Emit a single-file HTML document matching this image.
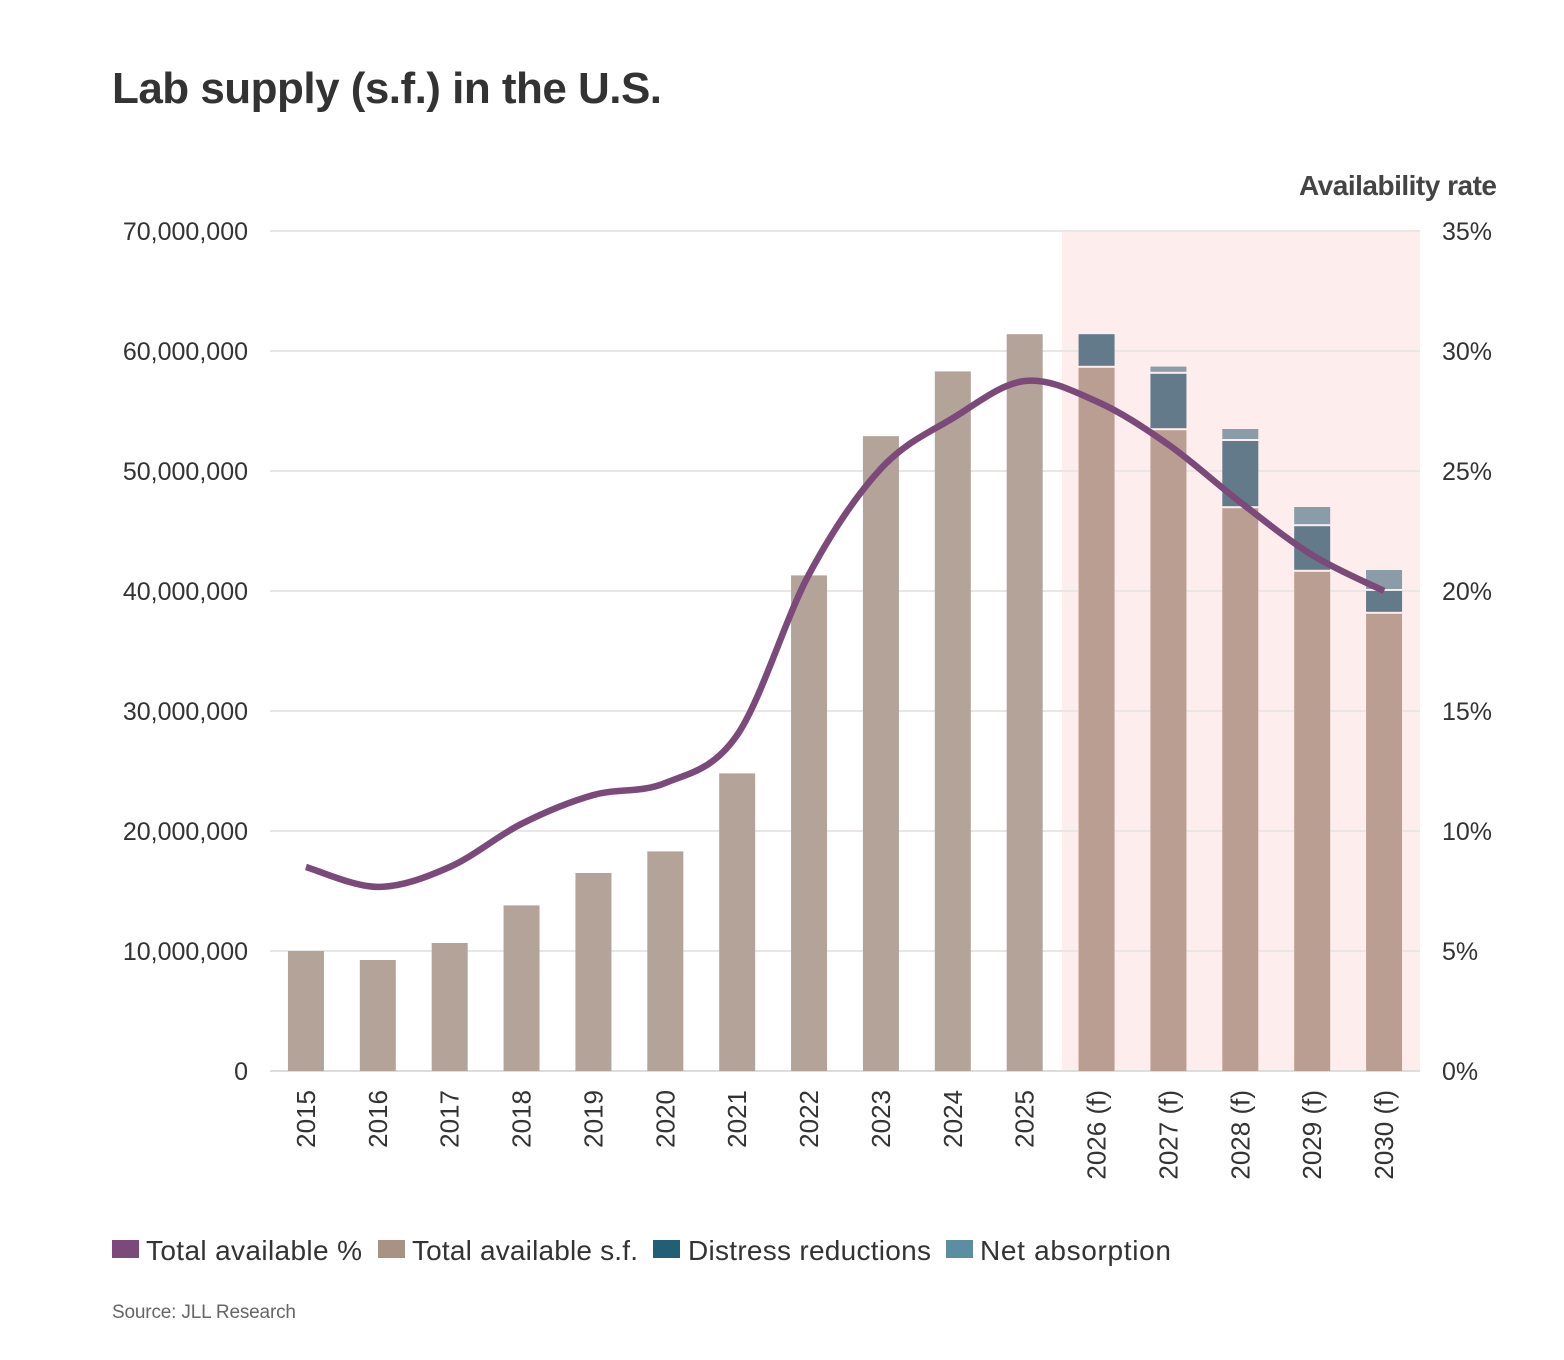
<!DOCTYPE html>
<html><head><meta charset="utf-8"><style>
body{margin:0;background:#fff;}
svg{display:block;font-family:"Liberation Sans Narrow","Liberation Sans",sans-serif;}
</style></head><body>
<svg id="chart" width="1564" height="1360">
<text x="112" y="103" font-size="44" font-weight="bold" fill="#333" textLength="550">Lab supply (s.f.) in the U.S.</text>
<text x="1497" y="195" font-size="28" font-weight="bold" fill="#444" text-anchor="end" textLength="198">Availability rate</text>
<rect x="1062" y="231" width="358" height="840" fill="#fdeeed"/>
<g id="grid"></g><g id="bars"></g><g id="line"></g><g id="axes"></g>
<g>
<g><rect x="112" y="1240" width="27" height="18" fill="#7b4a7a"/><text x="146" y="1260" font-size="28" fill="#333" textLength="216">Total available %</text></g>
<g><rect x="378" y="1240" width="27" height="18" fill="#a89284"/><text x="412" y="1260" font-size="28" fill="#333" textLength="226">Total available s.f.</text></g>
<g><rect x="653" y="1240" width="27" height="18" fill="#225e74"/><text x="688" y="1260" font-size="28" fill="#333" textLength="243">Distress reductions</text></g>
<g><rect x="946" y="1240" width="27" height="18" fill="#5a8ea0"/><text x="980" y="1260" font-size="28" fill="#333" textLength="191">Net absorption</text></g>
</g>
<text x="112" y="1318" font-size="19" fill="#666" textLength="184">Source: JLL Research</text>
</svg>
<script>
const categories=["2015","2016","2017","2018","2019","2020","2021","2022","2023","2024","2025","2026 (f)","2027 (f)","2028 (f)","2029 (f)","2030 (f)"];
const totalSf=[10.0,9.25,10.67,13.8,16.5,18.3,24.8,41.3,52.9,58.3,61.4,58.6,53.4,46.9,41.6,38.1];
const distress=[0,0,0,0,0,0,0,0,0,0,0,2.8,4.7,5.6,3.8,1.9];
const absorption=[0,0,0,0,0,0,0,0,0,0,0,0,0.6,1.0,1.6,1.75];
const availPct=[8.5,7.67,8.5,10.3,11.5,12.0,14.0,20.7,25.1,27.2,28.75,27.9,26.1,23.7,21.5,20.0];
const leftTicks=[0,10,20,30,40,50,60,70];
const rightTicks=[0,5,10,15,20,25,30,35];
const NS="http://www.w3.org/2000/svg";
const x0=270,x1=1420,y0=1071,y1=231,step=(x1-x0)/categories.length,bw=36;
const xC=i=>x0+step*(i+0.5);
const yL=v=>y0-(v/70)*(y0-y1);
const yR=v=>y0-(v/35)*(y0-y1);
function mk(tag,attrs,parent){const e=document.createElementNS(NS,tag);for(const k in attrs)e.setAttribute(k,attrs[k]);parent.appendChild(e);return e;}
const grid=document.getElementById('grid'),axes=document.getElementById('axes'),bars=document.getElementById('bars'),lineG=document.getElementById('line');
leftTicks.forEach((t,i)=>{
 const g=mk('line',{x1:x0,x2:x1,y1:yL(t),y2:yL(t),stroke:t===0?'#ddd':'#ebe6e6','stroke-width':2},grid);
 
 
 const tl=mk('text',{x:248,y:yL(t)+9,'font-size':25,fill:'#333','text-anchor':'end'},axes);
 tl.textContent=t===0?'0':(t*1000000).toLocaleString('en-US');
 
 
 const tr=mk('text',{x:1442,y:yR(rightTicks[i])+9,'font-size':25,fill:'#333'},axes);
 tr.textContent=rightTicks[i]+'%';
 
 
});
categories.forEach((c,i)=>{
 const f=i>=11, x=xC(i)-bw/2;
 const b=mk('rect',{x:x,y:yL(totalSf[i]),width:bw,height:yL(0)-yL(totalSf[i]),fill:f?'#bb9e92':'#b3a399'},bars);
 
 
 let base=totalSf[i];
 if(distress[i]>0){
  const d=mk('rect',{x:x,y:yL(base+distress[i]),width:bw,height:yL(base)-yL(base+distress[i])-2,fill:'#637a8a'},bars);
  
  
  base+=distress[i];
 }
 if(absorption[i]>0){
  const a=mk('rect',{x:x,y:yL(base+absorption[i]),width:bw,height:yL(base)-yL(base+absorption[i])-2,fill:'#8a9ca8'},bars);
  
  
 }
 const t=mk('text',{transform:`translate(${xC(i)+9},1090) rotate(-90)`,'font-size':26,fill:'#333','text-anchor':'end'},axes);
 t.textContent=c;
 
 
});
const pts=availPct.map((v,i)=>[xC(i),yR(v)]);
let d=`M${pts[0][0]},${pts[0][1]}`;
for(let i=0;i<pts.length-1;i++){
 const p0=pts[Math.max(0,i-1)],p1=pts[i],p2=pts[i+1],p3=pts[Math.min(pts.length-1,i+2)];
 const k=1/6;
 d+=` C${p1[0]+(p2[0]-p0[0])*k},${p1[1]+(p2[1]-p0[1])*k} ${p2[0]-(p3[0]-p1[0])*k},${p2[1]-(p3[1]-p1[1])*k} ${p2[0]},${p2[1]}`;
}
const ln=mk('path',{d:d,fill:'none',stroke:'#7b4a7a','stroke-width':6.5},lineG);


</script>
</body></html>
